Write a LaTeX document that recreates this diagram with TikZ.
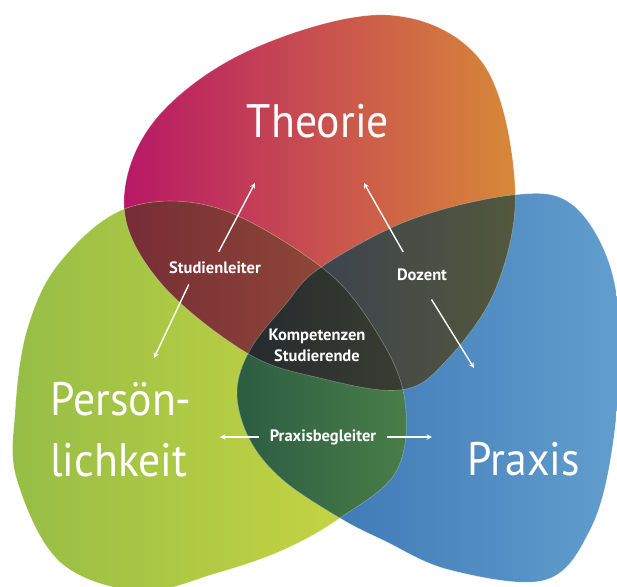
\documentclass[tikz,border=0pt]{standalone}
\usepackage{fontspec}
\setmainfont{PT Sans}
\newfontfamily\grossschrift[FakeStretch=0.93]{PT Sans}
\usetikzlibrary{calc}

\definecolor{theoL}{RGB}{184,24,102}
\definecolor{theoR}{RGB}{216,137,56}
\definecolor{persL}{RGB}{150,189,70}
\definecolor{persR}{RGB}{205,216,66}
\definecolor{praxL}{RGB}{52,110,176}
\definecolor{praxR}{RGB}{98,158,205}
\definecolor{tpL}{RGB}{118,44,54}
\definecolor{tpR}{RGB}{152,82,56}
\definecolor{txL}{RGB}{52,60,84}
\definecolor{txR}{RGB}{84,88,60}
\definecolor{pxL}{RGB}{44,92,66}
\definecolor{pxR}{RGB}{74,126,72}
\definecolor{allL}{RGB}{36,42,46}
\definecolor{allR}{RGB}{58,62,50}

\newcommand{\theorie}{plot[smooth cycle,tension=0.6] coordinates {(124,205) (155,120) (250,50) (387,15) (482,62) (515,185) (496,288) (445,362) (400,390) (320,378) (247,353) (160,282)}}
\newcommand{\persoen}{plot[smooth cycle,tension=0.6] coordinates {(127,208) (217,208) (320,266) (372,325) (404,395) (397,470) (340,518) (283,550) (217,573) (140,591) (60,562) (17,480) (15,413) (27,330) (60,262)}}
\newcommand{\praxis}{plot[smooth cycle,tension=0.6] coordinates {(513,195) (570,203) (608,260) (620,340) (612,450) (590,530) (545,580) (450,570) (383,540) (340,518) (283,480) (250,440) (237,393) (250,350) (285,305) (320,268) (410,220)}}

\tikzstyle{gross}=[text=white, inner sep=0pt, font=\grossschrift\fontsize{47}{61}\selectfont]
\tikzstyle{klein}=[text=white, inner sep=3pt, font=\bfseries\fontsize{16.5}{21}\selectfont, align=center]
\tikzstyle{pfeil}=[->, white, line width=1.4pt]
\tikzstyle{kante}=[draw=white, draw opacity=0.3, line width=0.6pt]

\begin{document}
\begin{tikzpicture}[>=stealth, x=1pt, y=-1pt]

 \useasboundingbox (0,0) rectangle (617,586);

 \shade[left color=theoL, right color=theoR] \theorie;
 \shade[left color=persL, right color=persR] \persoen;
 \shade[left color=praxL, right color=praxR] \praxis;

 \begin{scope}
  \clip \theorie; \clip \persoen;
  \shade[left color=tpL, right color=tpR] (120,190) rectangle (410,400);
 \end{scope}
 \begin{scope}
  \clip \theorie; \clip \praxis;
  \shade[left color=txL, right color=txR] (240,190) rectangle (520,400);
 \end{scope}
 \begin{scope}
  \clip \persoen; \clip \praxis;
  \shade[left color=pxL, right color=pxR] (235,250) rectangle (410,530);
 \end{scope}
 \begin{scope}
  \clip \theorie; \clip \persoen; \clip \praxis;
  \shade[left color=allL, right color=allR] (240,260) rectangle (410,400);
 \end{scope}

 \draw[kante] \theorie;
 \draw[kante] \persoen;
 \draw[kante] \praxis;

 \node[gross, anchor=base] (theo) at (318,137) {Theorie};
 \node[gross, anchor=north west, align=left] (pers) at (50,382) {Persön-\\lichkeit};
 \node[gross, anchor=base] (prax) at (524,475) {Praxis};

 \node[klein] (studl) at (215,268) {Studienleiter};
 \node[klein] (dozent) at (422,275) {Dozent};
 \node[klein] (komp) at (317,345) {Kompetenzen\\Studierende};
 \node[klein] (praxb) at (323,437) {Praxisbegleiter};

 \coordinate (sl-t) at (255,183);
 \coordinate (sl-p) at (154,358);
 \coordinate (dz-t) at (364,183);
 \coordinate (dz-p) at (474,368);
 \coordinate (pb-l) at (220,437);
 \coordinate (pb-r) at (432,437);

 \draw[pfeil, shorten <=8pt] (studl.north) -- (sl-t);
 \draw[pfeil, shorten <=8pt] (studl.202) -- (sl-p);
 \draw[pfeil, shorten <=16pt] (dozent.140) -- (dz-t);
 \draw[pfeil, shorten <=18pt] (dozent.south) -- (dz-p);
 \draw[pfeil, shorten <=8pt] (praxb.west) -- (pb-l);
 \draw[pfeil, shorten <=8pt] (praxb.east) -- (pb-r);

\end{tikzpicture}
\end{document}
